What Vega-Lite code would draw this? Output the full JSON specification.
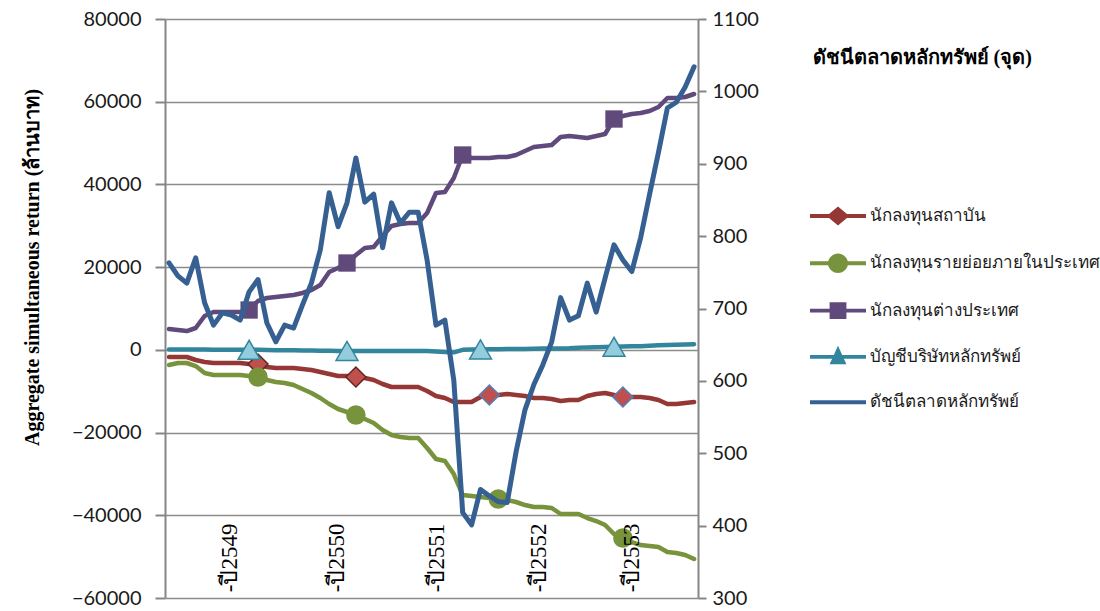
{
  "$schema": "https://vega.github.io/schema/vega-lite/v6.json",
  "width": 533,
  "height": 579,
  "autosize": "none",
  "padding": {"left": 165, "top": 19, "right": 402, "bottom": 13},
  "background": "white",
  "datasets": {
    "main": [
      {"i":0,"inst":-1728,"retail":-3663,"foreign":5042,"prop":100,"set":763},
      {"i":1,"inst":-1728,"retail":-3179,"foreign":4800,"prop":100,"set":745},
      {"i":2,"inst":-1728,"retail":-3179,"foreign":4558,"prop":100,"set":735},
      {"i":3,"inst":-2454,"retail":-3905,"foreign":5284,"prop":100,"set":770},
      {"i":4,"inst":-2937,"retail":-5597,"foreign":8185,"prop":100,"set":708},
      {"i":5,"inst":-3179,"retail":-6081,"foreign":9153,"prop":50,"set":677},
      {"i":6,"inst":-3179,"retail":-6081,"foreign":9153,"prop":50,"set":694},
      {"i":7,"inst":-3179,"retail":-6081,"foreign":9153,"prop":0,"set":691},
      {"i":8,"inst":-3179,"retail":-6081,"foreign":9153,"prop":0,"set":684},
      {"i":9,"inst":-3421,"retail":-6323,"foreign":9636,"prop":0,"set":723},
      {"i":10,"inst":-3421,"retail":-6564,"foreign":11812,"prop":0,"set":740},
      {"i":11,"inst":-4146,"retail":-7290,"foreign":12538,"prop":-50,"set":680},
      {"i":12,"inst":-4388,"retail":-7773,"foreign":12780,"prop":-100,"set":654},
      {"i":13,"inst":-4388,"retail":-8015,"foreign":13021,"prop":-100,"set":677},
      {"i":14,"inst":-4388,"retail":-8499,"foreign":13263,"prop":-100,"set":673},
      {"i":15,"inst":-4630,"retail":-9466,"foreign":13747,"prop":-150,"set":705},
      {"i":16,"inst":-4872,"retail":-10433,"foreign":14472,"prop":-150,"set":735},
      {"i":17,"inst":-5355,"retail":-11642,"foreign":15681,"prop":-200,"set":781},
      {"i":18,"inst":-5839,"retail":-13093,"foreign":18825,"prop":-200,"set":860},
      {"i":19,"inst":-6323,"retail":-14302,"foreign":19792,"prop":-250,"set":813},
      {"i":20,"inst":-6323,"retail":-15027,"foreign":21000,"prop":-250,"set":846},
      {"i":21,"inst":-6564,"retail":-15753,"foreign":22935,"prop":-300,"set":908},
      {"i":22,"inst":-6806,"retail":-16720,"foreign":24628,"prop":-300,"set":847},
      {"i":23,"inst":-7290,"retail":-17687,"foreign":24870,"prop":-300,"set":858},
      {"i":24,"inst":-8257,"retail":-19380,"foreign":27529,"prop":-300,"set":784},
      {"i":25,"inst":-8982,"retail":-20589,"foreign":29947,"prop":-300,"set":846},
      {"i":26,"inst":-8982,"retail":-21072,"foreign":30431,"prop":-250,"set":818},
      {"i":27,"inst":-8982,"retail":-21314,"foreign":30673,"prop":-250,"set":833},
      {"i":28,"inst":-8982,"retail":-21314,"foreign":30673,"prop":-250,"set":833},
      {"i":29,"inst":-9950,"retail":-23732,"foreign":33091,"prop":-300,"set":767},
      {"i":30,"inst":-11159,"retail":-26392,"foreign":37927,"prop":-400,"set":677},
      {"i":31,"inst":-11642,"retail":-26876,"foreign":38169,"prop":-500,"set":684},
      {"i":32,"inst":-12609,"retail":-30019,"foreign":41554,"prop":-600,"set":601},
      {"i":33,"inst":-12609,"retail":-35097,"foreign":47115,"prop":0,"set":418},
      {"i":34,"inst":-12609,"retail":-35339,"foreign":46390,"prop":100,"set":401},
      {"i":35,"inst":-11400,"retail":-35580,"foreign":46390,"prop":100,"set":450},
      {"i":36,"inst":-10917,"retail":-35822,"foreign":46390,"prop":150,"set":441},
      {"i":37,"inst":-10917,"retail":-36064,"foreign":46632,"prop":150,"set":433},
      {"i":38,"inst":-10675,"retail":-36306,"foreign":46632,"prop":200,"set":432},
      {"i":39,"inst":-10917,"retail":-36789,"foreign":47115,"prop":200,"set":502},
      {"i":40,"inst":-11159,"retail":-37515,"foreign":48082,"prop":200,"set":560},
      {"i":41,"inst":-11642,"retail":-37998,"foreign":49050,"prop":250,"set":595},
      {"i":42,"inst":-11642,"retail":-37998,"foreign":49291,"prop":300,"set":622},
      {"i":43,"inst":-11884,"retail":-38240,"foreign":49533,"prop":300,"set":654},
      {"i":44,"inst":-12368,"retail":-39691,"foreign":51468,"prop":350,"set":715},
      {"i":45,"inst":-12126,"retail":-39691,"foreign":51709,"prop":400,"set":684},
      {"i":46,"inst":-12126,"retail":-39691,"foreign":51468,"prop":500,"set":690},
      {"i":47,"inst":-11159,"retail":-40658,"foreign":51226,"prop":600,"set":735},
      {"i":48,"inst":-10675,"retail":-41384,"foreign":51709,"prop":650,"set":695},
      {"i":49,"inst":-10433,"retail":-42351,"foreign":52193,"prop":700,"set":742},
      {"i":50,"inst":-10917,"retail":-44527,"foreign":55820,"prop":750,"set":788},
      {"i":51,"inst":-11400,"retail":-45494,"foreign":56545,"prop":800,"set":767},
      {"i":52,"inst":-11400,"retail":-46461,"foreign":57029,"prop":850,"set":751},
      {"i":53,"inst":-11400,"retail":-47187,"foreign":57271,"prop":900,"set":798},
      {"i":54,"inst":-11642,"retail":-47429,"foreign":57754,"prop":1000,"set":858},
      {"i":55,"inst":-12126,"retail":-47670,"foreign":58722,"prop":1100,"set":916},
      {"i":56,"inst":-13093,"retail":-48879,"foreign":60898,"prop":1200,"set":977},
      {"i":57,"inst":-13093,"retail":-49121,"foreign":60898,"prop":1250,"set":985},
      {"i":58,"inst":-12851,"retail":-49605,"foreign":61140,"prop":1300,"set":1006},
      {"i":59,"inst":-12609,"retail":-50572,"foreign":61865,"prop":1350,"set":1034}
    ],
    "labels": [
      {"i": 6.8, "label": "-ปี2549"},
      {"i": 18.9, "label": "-ปี2550"},
      {"i": 30.1, "label": "-ปี2551"},
      {"i": 41.6, "label": "-ปี2552"},
      {"i": 52.0, "label": "-ปี2553"}
    ]
  },
  "resolve": {"scale": {"y": "independent"}},
  "layer": [
    {
      "data": {"name": "main"},
      "transform": [{"fold": ["inst", "retail", "foreign", "prop"], "as": ["s", "v"]}],
      "mark": {"type": "line", "strokeWidth": 4.5, "strokeJoin": "round", "strokeCap": "round"},
      "encoding": {
        "x": {"field": "i", "type": "quantitative", "scale": {"domain": [-0.45, 59.44], "nice": false, "zero": false}, "axis": null},
        "y": {"field": "v", "type": "quantitative", "scale": {"domain": [-60000, 80000], "nice": false, "zero": false},
          "axis": {"orient": "left", "values": [-60000, -40000, -20000, 0, 20000, 40000, 60000, 80000], "format": "d", "tickSize": 10, "labelPadding": 14, "grid": true,
            "title": "Aggregate simultaneous return (ล้านบาท)", "titleFont": "Liberation Serif", "titleFontWeight": "bold", "titleFontSize": 20, "titleColor": "#000",
            "titleAngle": 270, "titleX": -133, "titleY": 248, "titleAlign": "center", "titleBaseline": "middle"}},
        "color": {"field": "s", "type": "nominal",
          "scale": {"domain": ["inst", "retail", "foreign", "prop", "set"], "range": ["#953735", "#77933C", "#604A7B", "#31859C", "#366092"]},
          "legend": {"title": null, "labelExpr": "{'inst': 'นักลงทุนสถาบัน', 'retail': 'นักลงทุนรายย่อยภายในประเทศ', 'foreign': 'นักลงทุนต่างประเทศ', 'prop': 'บัญชีบริษัทหลักทรัพย์', 'set': 'ดัชนีตลาดหลักทรัพย์'}[datum.label]"}},
        "order": {"field": "s"}
      }
    },
    {
      "data": {"name": "main"},
      "transform": [{"filter": "datum.i == 10 || datum.i == 21"}],
      "mark": {"type": "point", "shape": "diamond", "filled": true, "fill": "#C0504D", "stroke": "#632523", "strokeWidth": 1.5, "size": 400, "opacity": 1},
      "encoding": {
        "x": {"field": "i", "type": "quantitative", "axis": null},
        "y": {"field": "inst", "type": "quantitative", "scale": {"domain": [-60000, 80000], "nice": false, "zero": false}, "axis": null}
      }
    },
    {
      "data": {"name": "main"},
      "transform": [{"filter": "datum.i == 36 || datum.i == 51"}],
      "mark": {"type": "point", "shape": "diamond", "filled": true, "fill": "#C0504D", "stroke": "#4F81BD", "strokeWidth": 1.5, "size": 400, "opacity": 1},
      "encoding": {
        "x": {"field": "i", "type": "quantitative", "axis": null},
        "y": {"field": "inst", "type": "quantitative", "scale": {"domain": [-60000, 80000], "nice": false, "zero": false}, "axis": null}
      }
    },
    {
      "data": {"name": "main"},
      "transform": [{"filter": "datum.i == 10 || datum.i == 21 || datum.i == 37 || datum.i == 51"}],
      "mark": {"type": "point", "shape": "circle", "filled": true, "fill": "#77933C", "size": 380, "opacity": 1},
      "encoding": {
        "x": {"field": "i", "type": "quantitative", "axis": null},
        "y": {"field": "retail", "type": "quantitative", "scale": {"domain": [-60000, 80000], "nice": false, "zero": false}, "axis": null}
      }
    },
    {
      "data": {"name": "main"},
      "transform": [{"filter": "datum.i == 9 || datum.i == 20 || datum.i == 33 || datum.i == 50"}],
      "mark": {"type": "point", "shape": "square", "filled": true, "fill": "#604A7B", "size": 300, "opacity": 1},
      "encoding": {
        "x": {"field": "i", "type": "quantitative", "axis": null},
        "y": {"field": "foreign", "type": "quantitative", "scale": {"domain": [-60000, 80000], "nice": false, "zero": false}, "axis": null}
      }
    },
    {
      "data": {"name": "main"},
      "transform": [{"filter": "datum.i == 9 || datum.i == 20 || datum.i == 35 || datum.i == 50"}],
      "mark": {"type": "point", "shape": "triangle-up", "filled": true, "fill": "#93CDDD", "stroke": "#31859C", "strokeWidth": 1.5, "size": 480, "opacity": 1},
      "encoding": {
        "x": {"field": "i", "type": "quantitative", "axis": null},
        "y": {"field": "prop", "type": "quantitative", "scale": {"domain": [-60000, 80000], "nice": false, "zero": false}, "axis": null}
      }
    },
    {
      "data": {"name": "labels"},
      "mark": {"type": "text", "angle": 270, "align": "left", "baseline": "middle", "font": "Liberation Serif", "fontSize": 23, "color": "#000"},
      "encoding": {
        "x": {"field": "i", "type": "quantitative", "axis": null},
        "y": {"datum": -58600, "type": "quantitative", "scale": {"domain": [-60000, 80000], "nice": false, "zero": false}, "axis": null},
        "text": {"field": "label"}
      }
    },
    {
      "data": {"name": "main"},
      "transform": [{"fold": ["inst", "retail", "foreign", "prop", "set"], "as": ["s", "v"]}, {"filter": "datum.i < 0"}],
      "mark": {"type": "point", "filled": true, "opacity": 0},
      "encoding": {
        "x": {"field": "i", "type": "quantitative", "axis": null},
        "y": {"field": "v", "type": "quantitative", "scale": {"domain": [-60000, 80000], "nice": false, "zero": false}, "axis": null},
        "color": {"field": "s", "type": "nominal",
          "scale": {"domain": ["inst", "retail", "foreign", "prop", "set"], "range": ["#953735", "#77933C", "#604A7B", "#31859C", "#366092"]},
          "legend": {"title": null, "labelExpr": "{'inst': 'นักลงทุนสถาบัน', 'retail': 'นักลงทุนรายย่อยภายในประเทศ', 'foreign': 'นักลงทุนต่างประเทศ', 'prop': 'บัญชีบริษัทหลักทรัพย์', 'set': 'ดัชนีตลาดหลักทรัพย์'}[datum.label]"}},
        "shape": {"field": "s", "type": "nominal",
          "scale": {"domain": ["inst", "retail", "foreign", "prop", "set"],
            "range": [
              "M-1,-0.07 L-0.32,-0.07 L0,-0.34 L0.32,-0.07 L1,-0.07 L1,0.07 L0.32,0.07 L0,0.34 L-0.32,0.07 L-1,0.07 Z",
              "M-1,-0.07 L-0.35,-0.07 A0.36,0.36 0 0 1 0.35,-0.07 L1,-0.07 L1,0.07 L0.35,0.07 A0.36,0.36 0 0 1 -0.35,0.07 L-1,0.07 Z",
              "M-1,-0.07 L-0.3,-0.07 L-0.3,-0.3 L0.3,-0.3 L0.3,-0.07 L1,-0.07 L1,0.07 L0.3,0.07 L0.3,0.3 L-0.3,0.3 L-0.3,0.07 L-1,0.07 Z",
              "M-1,-0.07 L-0.15,-0.07 L0,-0.4 L0.15,-0.07 L1,-0.07 L1,0.07 L0.21,0.07 L0.3,0.26 L-0.3,0.26 L-0.21,0.07 L-1,0.07 Z",
              "M-1,-0.07 L1,-0.07 L1,0.07 L-1,0.07 Z"
            ]},
          "legend": {"title": null, "labelExpr": "{'inst': 'นักลงทุนสถาบัน', 'retail': 'นักลงทุนรายย่อยภายในประเทศ', 'foreign': 'นักลงทุนต่างประเทศ', 'prop': 'บัญชีบริษัทหลักทรัพย์', 'set': 'ดัชนีตลาดหลักทรัพย์'}[datum.label]"}}
      }
    },
    {
      "data": {"name": "main"},
      "transform": [{"fold": ["set"], "as": ["s", "v"]}],
      "mark": {"type": "line", "strokeWidth": 5, "strokeJoin": "round", "strokeCap": "round"},
      "encoding": {
        "x": {"field": "i", "type": "quantitative", "axis": null},
        "y": {"field": "v", "type": "quantitative", "scale": {"domain": [300, 1100], "nice": false, "zero": false},
          "axis": {"orient": "right", "values": [300, 400, 500, 600, 700, 800, 900, 1000, 1100], "format": "d", "tickSize": 8, "labelPadding": 6, "grid": false,
            "title": "ดัชนีตลาดหลักทรัพย์ (จุด)", "titleFont": "Liberation Serif", "titleFontWeight": "bold", "titleFontSize": 20, "titleColor": "#000",
            "titleAngle": 0, "titleX": 114, "titleY": 38, "titleAlign": "left", "titleBaseline": "middle"}},
        "color": {"field": "s", "type": "nominal",
          "scale": {"domain": ["inst", "retail", "foreign", "prop", "set"], "range": ["#953735", "#77933C", "#604A7B", "#31859C", "#366092"]},
          "legend": {"title": null, "labelExpr": "{'inst': 'นักลงทุนสถาบัน', 'retail': 'นักลงทุนรายย่อยภายในประเทศ', 'foreign': 'นักลงทุนต่างประเทศ', 'prop': 'บัญชีบริษัทหลักทรัพย์', 'set': 'ดัชนีตลาดหลักทรัพย์'}[datum.label]"}}
      }
    }
  ],
  "config": {
    "view": {"stroke": null},
    "axis": {
      "domainColor": "#868686", "domainWidth": 2, "tickColor": "#868686", "tickWidth": 2,
      "gridColor": "#8c8c8c", "gridWidth": 1.5,
      "labelFont": "Lato", "labelFontSize": 20, "labelColor": "#1a1a1a"
    },
    "legend": {
      "orient": "none", "legendX": 645, "legendY": 169,
      "symbolSize": 3136, "symbolStrokeWidth": 0, "symbolOpacity": 1,
      "labelFont": "Noto Sans", "labelFontSize": 17, "labelColor": "#1a1a1a", "labelOffset": 4,
      "rowPadding": 9.3, "labelLimit": 300
    }
  }
}
